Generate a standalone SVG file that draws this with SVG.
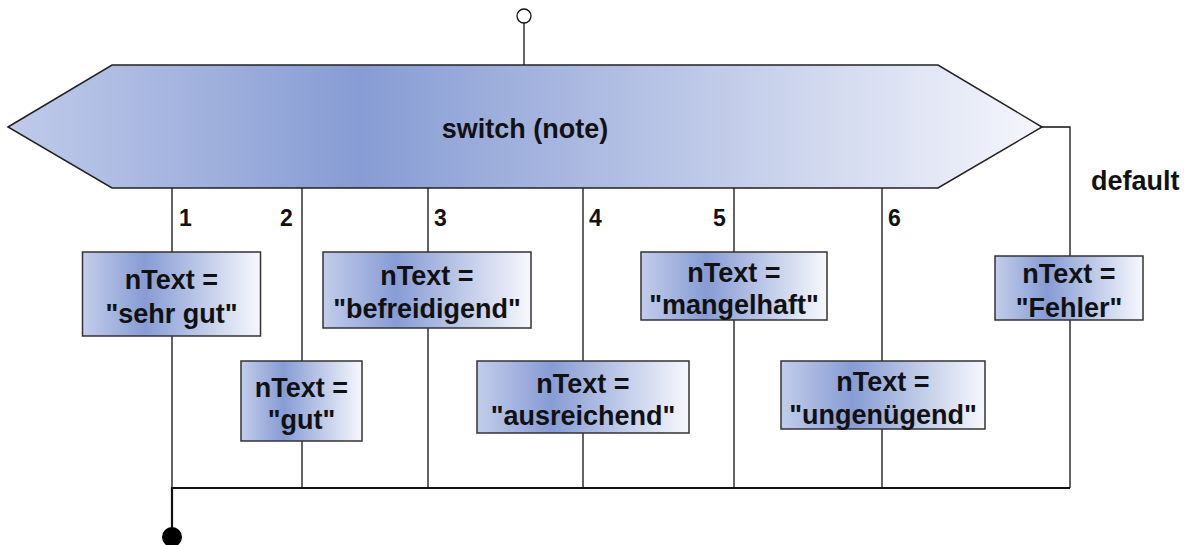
<svg xmlns="http://www.w3.org/2000/svg" width="1190" height="545" viewBox="0 0 1190 545">
<defs>
<linearGradient id="gHex" x1="0" y1="0" x2="1" y2="0">
<stop offset="0" stop-color="#c0cbea"/>
<stop offset="0.34" stop-color="#879cd4"/>
<stop offset="1" stop-color="#f5f6fc"/>
</linearGradient>
<linearGradient id="gBox" x1="0" y1="0" x2="1" y2="0">
<stop offset="0" stop-color="#c3cdeb"/>
<stop offset="0.35" stop-color="#879cd4"/>
<stop offset="1" stop-color="#f7f8fd"/>
</linearGradient>
<style>
.box{fill:url(#gBox);stroke:#333;stroke-width:1.5}
.hex{fill:url(#gHex);stroke:#222;stroke-width:1.5}
.t{font-family:"Liberation Sans",Arial,sans-serif;font-weight:bold;font-size:27px;fill:#111;text-anchor:middle}
.n{font-family:"Liberation Sans",Arial,sans-serif;font-weight:bold;font-size:23px;fill:#111}
.d{font-family:"Liberation Sans",Arial,sans-serif;font-weight:bold;font-size:27px;fill:#111}
.c{fill:none;stroke:#111;stroke-width:1.3}
</style>
</defs>
<g id="connectors">
<path class="c" d="M524 23V65"/>
<path class="c" d="M172 188V252M172 336V488"/>
<path class="c" d="M302 188V361M302 441V488"/>
<path class="c" d="M428 188V252M428 328V488"/>
<path class="c" d="M583 188V361M583 433V488"/>
<path class="c" d="M734 188V252M734 320V488"/>
<path class="c" d="M882 188V361M882 429V488"/>
<path class="c" d="M1042 127H1070V256M1070 320V488"/>
<path fill="none" stroke="#111" stroke-width="2.2" d="M1070 488H172V528"/>
<circle cx="524" cy="16" r="7" fill="#fff" stroke="#111" stroke-width="1.3"/>
<circle cx="172" cy="537" r="10" fill="#000"/>
</g>
<g id="switch">
<polygon class="hex" points="8,127 112,65 938,65 1042,127 938,188 112,188"/>
<text class="t" x="525" y="138">switch (note)</text>
</g>
<g id="labels">
<text class="n" x="179" y="226">1</text>
<text class="n" x="280" y="226">2</text>
<text class="n" x="434" y="226">3</text>
<text class="n" x="589" y="226">4</text>
<text class="n" x="713" y="226">5</text>
<text class="n" x="888" y="226">6</text>
<text class="d" x="1091" y="190">default</text>
</g>
<g id="case1">
<rect class="box" x="82.5" y="252" width="178" height="84"/>
<text class="t" x="171.5" y="289">nText =</text>
<text class="t" x="171.5" y="323">"sehr gut"</text>
</g>
<g id="case2">
<rect class="box" x="241" y="361" width="121" height="80"/>
<text class="t" x="301.5" y="397">nText =</text>
<text class="t" x="301.5" y="429">"gut"</text>
</g>
<g id="case3">
<rect class="box" x="323" y="252" width="208" height="76"/>
<text class="t" x="427" y="285">nText =</text>
<text class="t" x="427" y="318">"befreidigend"</text>
</g>
<g id="case4">
<rect class="box" x="477" y="361" width="212" height="72"/>
<text class="t" x="583" y="393">nText =</text>
<text class="t" x="583" y="425">"ausreichend"</text>
</g>
<g id="case5">
<rect class="box" x="641" y="252" width="186" height="68"/>
<text class="t" x="734" y="282">nText =</text>
<text class="t" x="734" y="314">"mangelhaft"</text>
</g>
<g id="case6">
<rect class="box" x="781" y="361" width="204" height="68"/>
<text class="t" x="883" y="391">nText =</text>
<text class="t" x="883" y="424">"ungenügend"</text>
</g>
<g id="default">
<rect class="box" x="995" y="256" width="148" height="64"/>
<text class="t" x="1069" y="283">nText =</text>
<text class="t" x="1069" y="317">"Fehler"</text>
</g>
</svg>
